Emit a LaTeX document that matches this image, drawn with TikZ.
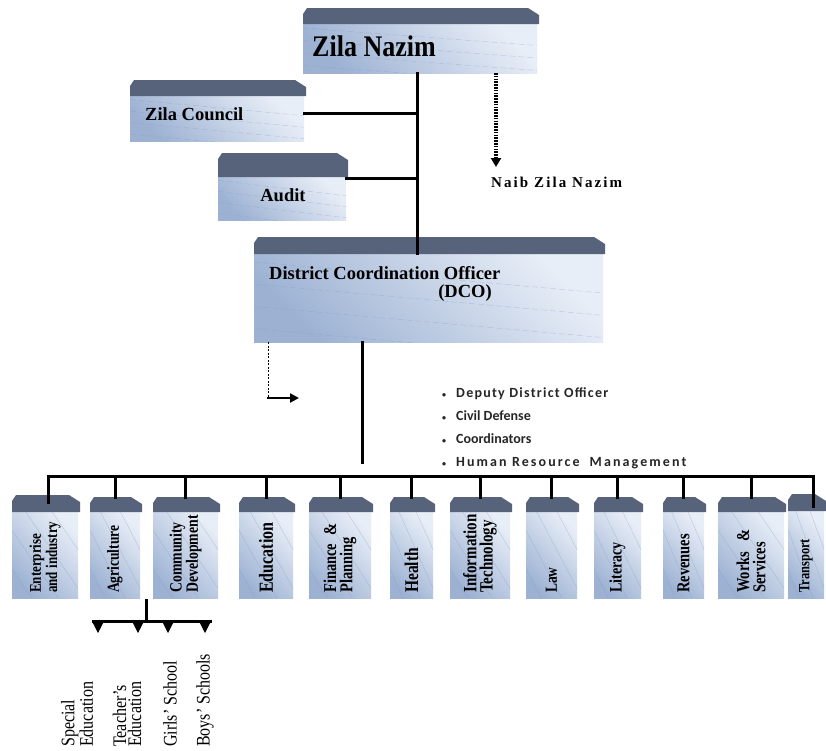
\documentclass[tikz,border=0pt]{standalone}
\usepackage{graphicx}
\usepackage{fontspec}
\setmainfont{Liberation Serif}[BoldFont={Liberation Serif Bold}]
\newfontfamily\calfont{Carlito}[BoldFont={Carlito Bold}]
\usetikzlibrary{calc,arrows.meta}
\definecolor{bandcol}{HTML}{56637A}
\definecolor{boxlight}{HTML}{E8EEF7}
\definecolor{boxdark}{HTML}{9DB2D3}
\definecolor{streak}{HTML}{7F95C0}
\tikzset{
  conn/.style={line width=3pt, line cap=rect},
  bodybox/.style={inner sep=0pt, outer sep=0pt, draw=none, top color=boxlight, bottom color=boxdark, shading angle=-45},
  topstreaks/.style={path picture={
    \foreach \k/\j in {0.1/0.45,0.35/0.7,0.6/0.95,0.85/1.2}{
      \draw[streak, opacity=0.35, dash pattern=on 6pt off 3pt, line width=0.5pt]
        ($(path picture bounding box.north west)!\k!(path picture bounding box.south west)$) --
        ($(path picture bounding box.north east)!\j!(path picture bounding box.south east)$);}}},
  botstreaks/.style={path picture={
    \foreach \k/\j in {-0.6/0.3,-0.2/0.7,0.2/1.1,0.6/1.5}{
      \draw[streak, opacity=0.35, line width=0.5pt]
        ($(path picture bounding box.north west)!\k!(path picture bounding box.north east)$) --
        ($(path picture bounding box.south west)!\j!(path picture bounding box.south east)$);}}},
  lab/.style={rotate=90, yscale=1.25, anchor=west, align=left, inner sep=0pt, font=\bfseries\fontsize{14}{13}\selectfont},
  sublab/.style={rotate=90, yscale=1.2, anchor=west, align=left, inner sep=0pt, font=\fontsize{16}{12.5}\selectfont},
  toptext/.style={inner sep=0pt, font=\bfseries\fontsize{18.5}{18.5}\selectfont},
  tipline/.style={line width=1pt, -{Triangle[width=10pt,length=10pt]}},
}
% name, x0, x1, band top, body top, body bottom, streak style
\newcommand\orgbox[7]{%
  \node[bodybox,#7,anchor=north west,minimum width={(#3-#2)*1pt},minimum height={(#6-#5)*1pt}] (#1) at (#2,#5) {};
  \fill[bandcol] (#2,#5+1) -- (#2,#4+6) -- (#2+4,#4) -- (#3-9,#4) -- (#3+2,#4+7) -- (#3+2,#5+1) -- cycle;
}
\newcommand\bul{{\fontsize{8}{8}\selectfont\textbullet}\hspace{10pt}}
\begin{document}
\begin{tikzpicture}[x=1pt,y=-1pt]
\fill[white] (0,0) rectangle (826,750);
\useasboundingbox (0,0) rectangle (826,750);

% ---- top boxes
\orgbox{zn}{303}{537}{8}{23}{73}{topstreaks}
\orgbox{zc}{130}{304}{80}{95}{141}{topstreaks}
\orgbox{au}{218}{346}{153}{176}{220}{topstreaks}
\orgbox{dco}{254}{603}{237}{253}{342}{topstreaks}

\node[anchor=west, inner sep=0pt, font=\bfseries\fontsize{26}{26}\selectfont] (znt) at (312,46) {\scalebox{1}[1.15]{Zila Nazim}};
\node[toptext, anchor=west] (zct) at (145,114) {Zila Council};
\node[toptext] (aut) at (283,195) {Audit};
\node[toptext, anchor=west] (dcot) at (269,273) {District Coordination Officer};
\node[toptext] (dcot2) at (465,293) {(DCO)};
\node[anchor=west, inner sep=0pt, font=\bfseries\fontsize{15}{15}\selectfont] (naib) at (491,182) {\addfontfeature{LetterSpace=14}Naib Zila Nazim};

% ---- spine and side branches
\coordinate (sp) at (417,0);
\draw[conn] (zn.south -| sp) -- (dco.north -| sp);
\coordinate (zcc) at ($(zc.east)+(0,-5)$);
\draw[conn] (zcc) -- (zcc -| sp);
\coordinate (auc) at ($(au.north east)+(0,2)$);
\draw[conn] (auc) -- (auc -| sp);

% ---- Naib arrow
\coordinate (natip) at (496,167);
\draw[line width=3.2pt, dash pattern=on 1.6pt off 1.2pt, -{Triangle[width=10pt,length=9pt]}] (zn.south -| natip) -- (natip);

% ---- DCO dashed elbow
\coordinate (elc) at (268,398);
\coordinate (ele) at (299,398);
\draw[line width=1pt, dash pattern=on 2pt off 1.5pt] (dco.south -| elc) -- (elc);
\draw[line width=2.8pt, -{Triangle[width=9pt,length=9pt]}] ([xshift=-1pt]elc) -- (ele);

% ---- DCO down
\coordinate (dd) at (362,462);
\draw[conn] (dco.south -| dd) -- (dd);

% ---- bullets
\node[anchor=west, align=left, inner sep=0pt, font=\calfont\bfseries\fontsize{14}{23}\selectfont, text=black!85] (bul) at (442,428.5)
 {\addfontfeature{LetterSpace=9}\bul Deputy District Officer\\
  \bul Civil Defense\\
  \bul Coordinators\\
  \bul{\addfontfeature{LetterSpace=15}Human Resource\hspace{10pt}Management}};

% ---- bottom boxes
\orgbox{ent}{12}{78}{495}{511}{598}{botstreaks}
\orgbox{agr}{90}{140}{497}{511}{598}{botstreaks}
\orgbox{com}{153}{218}{497}{511}{598}{botstreaks}
\orgbox{edu}{239}{293}{497}{511}{598}{botstreaks}
\orgbox{fin}{309}{371}{497}{511}{598}{botstreaks}
\orgbox{hea}{390}{433}{497}{511}{598}{botstreaks}
\orgbox{it}{450}{510}{497}{511}{598}{botstreaks}
\orgbox{law}{526}{577}{497}{511}{598}{botstreaks}
\orgbox{lit}{594}{641}{497}{511}{598}{botstreaks}
\orgbox{rev}{663}{704}{497}{511}{598}{botstreaks}
\orgbox{wor}{718}{784}{497}{511}{598}{botstreaks}
\orgbox{tra}{788}{824}{494}{510}{598}{botstreaks}

\node[lab, font=\bfseries\fontsize{13}{13}\selectfont] (entl) at ($(ent.south)+(0,-5)$) {Enterprise\\and industry};
\node[lab, font=\bfseries\fontsize{13.5}{13}\selectfont] (agrl) at ($(agr.south)+(0,-5)$) {Agriculture};
\node[lab, font=\bfseries\fontsize{13.8}{13}\selectfont] (coml) at ($(com.south)+(0,-5)$) {Community\\Development};
\node[lab, font=\bfseries\fontsize{16}{13}\selectfont] (edul) at ($(edu.south)+(0,-5)$) {Education};
\node[lab, font=\bfseries\fontsize{14.5}{13}\selectfont] (finl) at ($(fin.south)+(0,-5)$) {Finance\hspace{8pt}\&\\Planning};
\node[lab, font=\bfseries\fontsize{15.5}{13}\selectfont] (heal) at ($(hea.south)+(0,-5)$) {Health};
\node[lab, font=\bfseries\fontsize{15}{13}\selectfont] (itl) at ($(it.south)+(0,-5)$) {Information\\Technology};
\node[lab, font=\bfseries\fontsize{13.5}{13}\selectfont] (lawl) at ($(law.south)+(0,-5)$) {Law};
\node[lab] (litl) at ($(lit.south)+(0,-5)$) {Literacy};
\node[lab, font=\bfseries\fontsize{14.5}{13}\selectfont] (revl) at ($(rev.south)+(0,-5)$) {Revenues};
\node[lab, font=\bfseries\fontsize{14.5}{13}\selectfont] (worl) at ($(wor.south)+(0,-5)$) {Works\hspace{10pt}\&\\Services};
\node[lab, font=\bfseries\fontsize{12.5}{13}\selectfont] (tral) at ($(tra.south)+(0,-5)$) {Transport};

% ---- bus and drops
\coordinate (busL) at (48,476);
\coordinate (busR) at (813,476);
\draw[conn] (busL) -- (busR);
\draw[conn] (busL) -- ($(busL |- ent.north)+(0,-9)$);
\draw[conn] (busR) -- ($(busR |- tra.north)+(0,-4)$);
\foreach \n in {agr,com,edu,fin,hea,it,law,lit,rev,wor}{
  \draw[conn] (\n.north |- busL) -- ($(\n.north)+(0,-14)$);
}

% ---- sub-branch under Agriculture / Community Development
\coordinate (sbt) at (146,600);
\coordinate (sbL) at (93,621);
\coordinate (sbR) at (210,621);
\draw[conn] (sbt) -- (sbt |- sbL);
\draw[conn] (sbL) -- (sbR);
\coordinate (a1) at (98,633);
\coordinate (a2) at (138,633);
\coordinate (a3) at (168,633);
\coordinate (a4) at (205,633);
\foreach \a in {a1,a2,a3,a4}{
  \draw[tipline] (\a |- sbL) -- (\a);
}
\node[sublab] (spe) at (77,747) {Special\\Education};
\node[sublab] (tea) at (127,747) {Teacher's\\Education};
\node[sublab] (gir) at (170,747) {Girls' School};
\node[sublab] (boy) at (205,747) {Boys' Schools};
\end{tikzpicture}
\end{document}
